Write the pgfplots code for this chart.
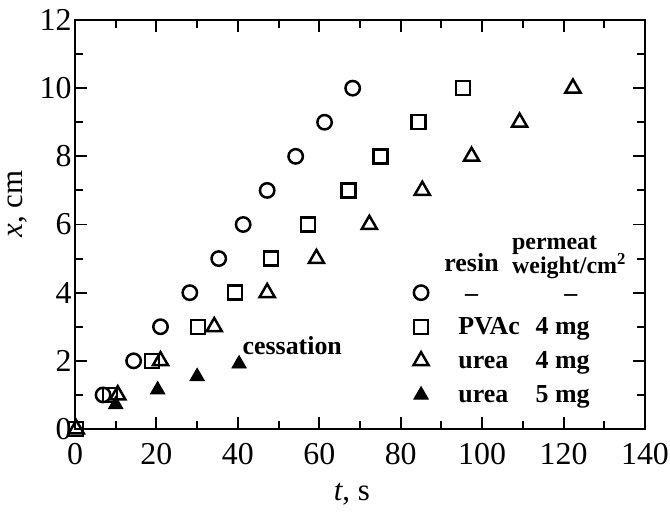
\documentclass[border=0pt]{standalone}
\usepackage{pgfplots}
\pgfplotsset{compat=1.18}
\usepackage{fontspec}
\setmainfont{Liberation Serif}
\begin{document}
\begin{tikzpicture}
\begin{axis}[
  scale only axis, width=570bp, height=409bp,
  xmin=0, xmax=140, ymin=0, ymax=12,
  xtick={0,20,...,140}, ytick={0,2,...,12},
  minor x tick num=1, minor y tick num=1,
  tick align=inside, major tick length=12bp, minor tick length=8bp,
  axis line style={line width=2pt}, every tick/.style={line width=2pt, black},
  ticklabel style={font=\fontsize{32}{34}\selectfont},
  /pgf/number format/assume math mode=true,
  xticklabel style={yshift=-11bp},
  yticklabel style={xshift=0bp},
  clip=false,
]
\coordinate (bl) at (rel axis cs:0,0);
\coordinate (tr) at (rel axis cs:1,1);
% circles
\addplot[only marks, mark=o, mark size=7.2bp, mark options={line width=2.5pt, black}] coordinates {
(6.9,1)(14.4,2)(21,3)(28.2,4)(35.3,5)(41.3,6)(47.2,7)(54.2,8)(61.3,9)(68.2,10)};
% squares
\addplot[only marks, mark=square, mark size=7bp, mark options={line width=2.5pt, black}] coordinates {
(0.3,0)(8.6,1)(18.9,2)(30.2,3)(39.3,4)(48.2,5)(57.2,6)(67.2,7)(75,8)(84.4,9)(95.3,10)};
% open triangles
\addplot[only marks, mark=triangle, mark size=8.7bp, mark options={line width=2.5pt, black}] coordinates {
(0.3,0)(10.5,1)(21,2)(34.2,3)(47.2,4)(59.3,5)(72.3,6)(85.3,7)(97.4,8)(109.2,9)(122.3,10)};
% filled triangles
\addplot[only marks, mark=triangle*, mark size=8.2bp, mark options={line width=1pt, black, fill=black}] coordinates {
(10,0.72)(20.3,1.15)(30,1.54)(40.3,1.91)};
% legend markers
\addplot[only marks, mark=o, mark size=7.2bp, mark options={line width=2.5pt, black}] coordinates {(85,4)};
\addplot[only marks, mark=square, mark size=7bp, mark options={line width=2.5pt, black}] coordinates {(85,3)};
\addplot[only marks, mark=triangle, mark size=8.7bp, mark options={line width=2.5pt, black}] coordinates {(85,2)};
\addplot[only marks, mark=triangle*, mark size=8.2bp, mark options={line width=1pt, black, fill=black}] coordinates {(85,1)};
% axis labels
\node[rotate=90, font=\fontsize{31}{33}\selectfont] at (axis cs:-14,6.6) {\textit{x}, cm};
\node[font=\fontsize{31}{33}\selectfont] at (axis cs:68,-1.9) {\textit{t}, s};
% texts
\node[anchor=base west, font=\fontsize{26}{28}\selectfont\bfseries] at (axis cs:40.3,2.2) {cessation};
\node[anchor=base, font=\fontsize{26}{28}\selectfont\bfseries] at (axis cs:97.4,4.62) {resin};
\node[anchor=base west, font=\fontsize{24}{26}\selectfont\bfseries] at (axis cs:106.5,5.28) {permeat};
\node[anchor=base west, font=\fontsize{24}{26}\selectfont\bfseries] at (axis cs:106.5,4.55) {weight/cm\textsuperscript{2}};
\node[font=\fontsize{26}{28}\selectfont\bfseries] at (axis cs:97.4,3.85) {--};
\node[font=\fontsize{26}{28}\selectfont\bfseries] at (axis cs:121.8,3.85) {--};
\node[anchor=base west, font=\fontsize{26}{28}\selectfont\bfseries] at (axis cs:93.3,2.78) {PVAc};
\node[anchor=base west, font=\fontsize{26}{28}\selectfont\bfseries] at (axis cs:93.3,1.78) {urea};
\node[anchor=base west, font=\fontsize{26}{28}\selectfont\bfseries] at (axis cs:93.3,0.78) {urea};
\node[anchor=base west, font=\fontsize{26}{28}\selectfont\bfseries] at (axis cs:112.3,2.78) {4 mg};
\node[anchor=base west, font=\fontsize{26}{28}\selectfont\bfseries] at (axis cs:112.3,1.78) {4 mg};
\node[anchor=base west, font=\fontsize{26}{28}\selectfont\bfseries] at (axis cs:112.3,0.78) {5 mg};
\end{axis}
\pgfresetboundingbox
\path[use as bounding box] ([xshift=-75bp,yshift=-84bp]bl) rectangle ([xshift=25bp,yshift=20bp]tr);
\end{tikzpicture}
\end{document}
